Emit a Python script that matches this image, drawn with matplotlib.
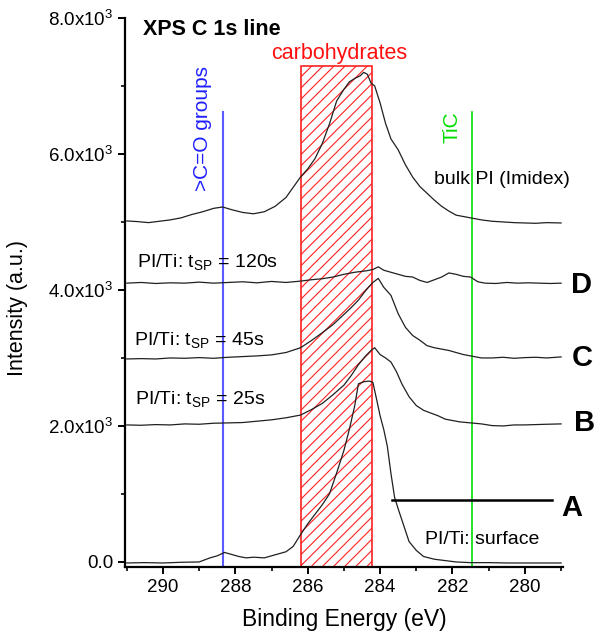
import matplotlib
matplotlib.use("Agg")
import matplotlib.pyplot as plt
from matplotlib.patches import Rectangle
from matplotlib.ticker import FixedLocator, FuncFormatter

plt.rcParams["font.family"] = ["Liberation Sans", "DejaVu Sans"]
plt.rcParams["mathtext.fontset"] = "custom"
plt.rcParams["mathtext.rm"] = "Liberation Sans"
plt.rcParams["mathtext.it"] = "Liberation Sans"
plt.rcParams["hatch.linewidth"] = 0.8

# bulk PI (Imidex)
e_bulk = [291.0, 290.7, 290.4, 290.1, 289.8, 289.5, 289.2, 288.9, 288.6, 288.35,
          288.1, 287.8, 287.5, 287.2, 286.9, 286.6, 286.4, 286.2, 286.0, 285.8,
          285.6, 285.4, 285.2, 285.0, 284.85, 284.7, 284.55, 284.45, 284.35, 284.25,
          284.15, 284.0, 283.85, 283.7, 283.5, 283.3, 283.1, 282.9, 282.7, 282.5,
          282.3, 282.1, 281.9, 281.7, 281.5, 281.2, 280.9, 280.6, 280.3, 280.0,
          279.7, 279.4, 279.0]
i_bulk = [5015, 5005, 4990, 5010, 5030, 5060, 5110, 5150, 5200, 5220,
          5180, 5140, 5120, 5150, 5230, 5360, 5510, 5660, 5780, 5930,
          6150, 6440, 6780, 6950, 7060, 7110, 7150, 7200, 7170, 7040,
          7000, 6750, 6450, 6220, 6060, 5840, 5660, 5520, 5420, 5320,
          5230, 5160, 5100, 5080, 5060, 5030, 5010, 5000, 4990, 4985,
          4980, 4990, 4985]

# D: PI/Ti, t_SP = 120 s
e_d = [291.0, 290.6, 290.2, 289.8, 289.4, 289.0, 288.6, 288.2, 287.8, 287.4,
       287.0, 286.6, 286.2, 285.9, 285.6, 285.3, 285.0, 284.7, 284.4, 284.2,
       284.05, 283.9, 283.7, 283.5, 283.3, 283.1, 282.9, 282.7, 282.5, 282.3,
       282.1, 281.9, 281.7, 281.5, 281.3, 281.1, 280.8, 280.5, 280.2, 279.9,
       279.6, 279.3, 279.0]
i_d = [4100, 4110, 4095, 4105, 4100, 4115, 4100, 4110, 4120, 4105,
       4125, 4110, 4130, 4150, 4165, 4190, 4230, 4260, 4280, 4300,
       4340, 4290, 4260, 4230, 4200, 4190, 4140, 4110, 4150, 4190,
       4250, 4230, 4200, 4190, 4120, 4100, 4095, 4110, 4100, 4105,
       4100, 4095, 4100]

# C: PI/Ti, t_SP = 45 s
e_c = [291.0, 290.6, 290.2, 289.8, 289.4, 289.0, 288.6, 288.2, 287.8, 287.4,
       287.0, 286.6, 286.2, 285.9, 285.6, 285.3, 285.0, 284.8, 284.6, 284.4,
       284.2, 284.05, 283.9, 283.7, 283.5, 283.3, 283.1, 282.9, 282.7, 282.5,
       282.3, 282.1, 281.9, 281.7, 281.5, 281.2, 280.9, 280.6, 280.3, 280.0,
       279.7, 279.4, 279.0]
i_c = [2985, 2990, 2985, 3000, 2995, 3005, 2995, 3010, 3020, 3030,
       3045, 3080, 3150, 3255, 3370, 3490, 3640, 3740, 3850, 3990,
       4110, 4170, 4040, 3920, 3650, 3450, 3330, 3260, 3180, 3150,
       3130, 3110, 3080, 3050, 3030, 3000, 3000, 3010, 2995, 3005,
       3010, 3000, 3015]

# B: PI/Ti, t_SP = 25 s
e_b = [291.0, 290.6, 290.2, 289.8, 289.4, 289.0, 288.6, 288.2, 287.8, 287.4,
       287.0, 286.6, 286.2, 285.9, 285.6, 285.3, 285.0, 284.8, 284.6, 284.4,
       284.25, 284.15, 284.0, 283.85, 283.7, 283.55, 283.4, 283.2, 283.0, 282.8,
       282.6, 282.4, 282.2, 282.0, 281.8, 281.5, 281.2, 280.9, 280.6, 280.3,
       280.0, 279.7, 279.4, 279.0]
i_b = [2015, 2010, 2020, 2015, 2030, 2025, 2040, 2045, 2050, 2070,
       2090, 2120, 2160, 2240, 2330, 2460, 2600, 2740, 2900, 3030,
       3110, 3150, 3050, 3000, 2940, 2800, 2620, 2430, 2300, 2230,
       2190, 2150, 2100, 2080, 2060, 2045, 2030, 2005, 2000, 2015,
       2015, 2020, 2025, 2030]

# A: PI/Ti surface
e_a = [291.0, 290.5, 290.0, 289.5, 289.0, 288.7, 288.5, 288.3, 288.1, 287.9,
       287.7, 287.5, 287.2, 287.0, 286.8, 286.6, 286.4, 286.2, 286.0, 285.8,
       285.6, 285.4, 285.2, 285.0, 284.85, 284.7, 284.6, 284.45, 284.3, 284.2,
       284.1, 284.0, 283.9, 283.8, 283.7, 283.6, 283.5, 283.4, 283.2, 283.0,
       282.8, 282.5, 282.2, 281.9, 281.5, 281.0, 280.5, 280.0, 279.5, 279.0]
i_a = [-15, -10, -15, -5, 0, 60, 90, 140, 110, 80,
       60, 70, 60, 90, 120, 150, 230, 400, 560, 700,
       840, 1000, 1310, 1640, 1950, 2300, 2620, 2650, 2660, 2640,
       2400, 2150, 1950, 1700, 1300, 950, 780, 620, 300, 170,
       80, 40, 20, 0, -10, -10, -15, -15, -15, -15]

spectra = [(e_bulk, i_bulk), (e_d, i_d), (e_c, i_c), (e_b, i_b), (e_a, i_a)]

co_energy = 288.35
tic_energy = 281.46
carb_range = (286.19, 284.23)
marker_top = 6620
carb_top = 7290

fig = plt.figure(figsize=(5.95, 6.34), dpi=100)
ax = fig.add_axes([0.210, 0.1057, 0.736, 0.866])

ymin = -74
ax.add_patch(Rectangle((carb_range[1], ymin), carb_range[0] - carb_range[1],
                       carb_top - ymin, facecolor="none", edgecolor="#ff2020",
                       hatch="///", linewidth=1.2, zorder=1))
ax.plot([co_energy, co_energy], [ymin, marker_top], color="#5a5aff", lw=1.5, zorder=2)
ax.plot([tic_energy, tic_energy], [ymin, marker_top], color="#00dd00", lw=1.2, zorder=2)

for e, i in spectra:
    ax.plot(e, i, color="#202020", lw=0.9, zorder=3)

ax.plot([283.68, 279.26], [912, 912], color="black", lw=1.8, clip_on=False, zorder=3)

ax.set_xlim(291.05, 278.95)
ax.set_ylim(ymin, 8000)

ax.xaxis.set_major_locator(FixedLocator([290, 288, 286, 284, 282, 280]))
ax.xaxis.set_minor_locator(FixedLocator([291, 289, 287, 285, 283, 281, 279]))
ax.yaxis.set_major_locator(FixedLocator([0, 2000, 4000, 6000, 8000]))
ax.yaxis.set_minor_locator(FixedLocator([1000, 3000, 5000, 7000]))
ax.yaxis.set_major_formatter(FuncFormatter(
    lambda v, p: "0.0" if v == 0 else "%.1fx10$^{3}$" % (v / 1000)))

for s in ["top", "right"]:
    ax.spines[s].set_visible(False)
for s in ["left", "bottom"]:
    ax.spines[s].set_linewidth(1.6)
ax.tick_params(which="major", direction="out", length=5, width=1.4, labelsize=13.5)
ax.tick_params(which="minor", direction="out", length=3, width=1.2)

ax.set_xlabel("Binding Energy (eV)", fontsize=16.5)
ax.set_ylabel("Intensity (a.u.)", fontsize=15.5)
ax.xaxis.set_label_coords(0.5, -0.075)
ax.yaxis.set_label_coords(-0.222, 0.472)

ax.text(290.55, 7824, "XPS C 1s line", fontsize=15.5, fontweight="bold", va="center")
ax.text(285.12, 7470, "carbohydrates", fontsize=15.5, color="#ff1010", ha="center", va="center")
ax.text(288.9, 6380, ">C=O groups", fontsize=15, color="#2020ff", rotation=90,
        ha="center", va="center")
ax.text(282.0, 6400, "TiC", fontsize=15, color="#00dd00", rotation=90, ha="center", va="center")
ax.text(282.52, 5620, "bulk PI (Imidex)", fontsize=14, va="center")
ax.text(290.72, 4410, r"PI/Ti: t$_{\rm SP}$ = 120s", fontsize=14, va="center")
ax.text(290.8, 3265, r"PI/Ti: t$_{\rm SP}$ = 45s", fontsize=14, va="center")
ax.text(290.77, 2400, r"PI/Ti: t$_{\rm SP}$ = 25s", fontsize=14, va="center")
ax.text(282.77, 324, "PI/Ti: surface", fontsize=14, va="center")

for lab, e, i in [("D", 278.44, 4074), ("C", 278.41, 3000),
                  ("B", 278.35, 2045), ("A", 278.69, 794)]:
    ax.text(e, i, lab, fontsize=21, fontweight="bold", ha="center", va="center")

fig.savefig("out.png", dpi=100)
